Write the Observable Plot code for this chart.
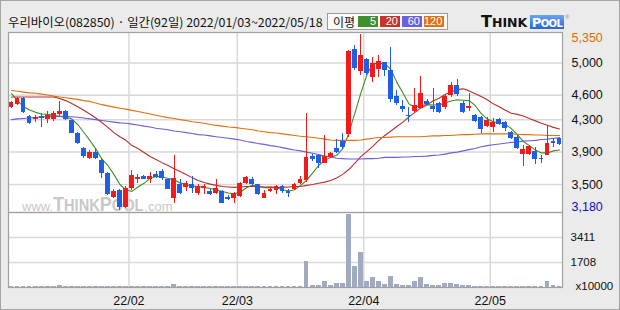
<!DOCTYPE html>
<html><head><meta charset="utf-8">
<script src="https://cdn.jsdelivr.net/npm/d3@7"></script>
<script src="https://cdn.jsdelivr.net/npm/@observablehq/plot@0.6"></script>
<style>
body{margin:0;background:#fff;}
#wrap{position:relative;width:620px;height:310px;background:#ebebeb;overflow:hidden;font-family:"Liberation Sans",Arial,sans-serif;}
#outline{position:absolute;left:0;top:0;width:620px;height:310px;box-sizing:border-box;border:1px solid #a4a4a4;pointer-events:none;}
.abs{position:absolute;}
#title{left:8px;top:14px;font-family:"Noto Sans CJK KR",sans-serif;font-size:12.4px;line-height:16px;color:#111;white-space:nowrap;}
#leg{left:327px;top:13px;width:121px;height:17px;box-sizing:border-box;border:1px solid #9a9a9a;background:#fbfbfb;}
#leg .lab{position:absolute;left:5px;top:0px;font-family:"Noto Sans CJK KR",sans-serif;font-size:12px;line-height:15px;color:#111;}
#leg .bx{position:absolute;top:2px;height:11px;width:20px;color:#fff;font-size:11px;line-height:11px;text-align:right;box-sizing:border-box;padding-right:2px;}
#logo{left:481px;top:13px;height:17px;width:90px;white-space:nowrap;}
#think{position:absolute;left:0;top:1px;width:50px;font-family:"DejaVu Sans",sans-serif;font-weight:900;color:#111;line-height:15px;letter-spacing:0px;}
#pool{position:absolute;left:49px;top:2px;width:34px;height:14px;background:linear-gradient(#6aa3f0,#2a66d2);font-family:"DejaVu Sans",sans-serif;font-weight:900;color:#fff;line-height:14px;text-align:center;letter-spacing:-0.6px;overflow:hidden;}
#reg{position:absolute;left:84px;top:1px;font-size:6px;color:#888;}
#pbg{left:8px;top:32px;width:554px;height:180px;background:#fff;}
#vbg{left:8px;top:212px;width:554px;height:75px;background:#fff;}
#wm{left:22px;top:192px;white-space:nowrap;color:#c8c8c8;font-family:"Liberation Sans",sans-serif;}
#price{left:0;top:32px;}
#vol{left:0;top:212px;}
</style></head><body>
<div id="wrap">
  <div id="pbg" class="abs"></div>
  <div id="vbg" class="abs"></div>
  <div id="wm" class="abs"><span style="font-size:13px;">www.</span><span style="font-size:21px;font-weight:bold;display:inline-block;transform:scaleX(0.86);transform-origin:left;margin-right:-14px;">T<span style="font-size:17px">HINK</span>P<span style="font-size:17px">OOL</span></span><span style="font-size:13px;">.com</span></div>
  <div id="price" class="abs"></div>
  <div id="vol" class="abs"></div>
  <div id="title" class="abs"></div>
  <div id="leg" class="abs"></div>
  <div id="logo" class="abs"><div id="think"><span style="font-size:16px">T</span><span style="font-size:12.5px">HINK</span></div><div id="pool"><span style="font-size:13px">P</span><span style="font-size:10px">OOL</span></div><div id="reg">®</div></div>
  <div id="outline"></div>
</div>
<script>
// ---- data ----
const titleText = "우리바이오(082850) · 일간(92일) 2022/01/03~2022/05/18";
const maLabel = "이평";
const maNames = ["5", "20", "60", "120"];
const maColors = ["#3f8c24", "#b8302a", "#6a5fdc", "#e0700c"];
const legendColors = ["#3f8f2a", "#c93226", "#6a5fdc", "#e2720e"];

const openP = [4455,4485,4565,4340,4300,4340,4300,4305,4365,4400,
 4290,4135,3945,3825,3900,3795,3640,3345,3425,3220,
 3455,3560,3605,3565,3625,3660,3560,3330,3505,3465,
 3500,3385,3445,3415,3385,3415,3345,3330,3355,3515,
 3560,3500,3330,3410,3425,3475,3410,3435,3515,3550,
 3845,3860,3765,3835,3950,4030,4115,5165,4895,5040,
 4825,4920,5000,4905,4585,4460,4350,4400,4440,4530,
 4460,4495,4445,4595,4720,4505,4435,4350,4325,4215,
 4205,4300,4270,4140,4085,3870,3865,3910,3815,3860,
 4035,4070];
const highP = [4530,4575,4570,4350,4350,4375,4400,4400,4525,4415,
 4295,4140,3960,3920,3930,3810,3650,3440,3440,3475,
 3675,3625,3610,3650,3665,3685,3570,3860,3560,3540,
 3605,3495,3495,3435,3560,3425,3365,3405,3530,3605,
 3590,3505,3425,3465,3490,3490,3435,3515,3600,4380,
 3870,3870,4105,3900,4055,4135,5155,5215,5350,5050,
 5070,5090,5010,5195,4660,4535,4450,4680,4835,4550,
 4680,4515,4615,4760,4790,4520,4620,4365,4340,4325,
 4310,4320,4280,4155,4105,3980,3980,3960,3860,4230,
 4065,4075];
const lowP = [4440,4475,4370,4240,4270,4200,4250,4280,4340,4290,
 4125,3995,3825,3805,3805,3580,3370,3330,3180,3200,
 3425,3510,3560,3515,3570,3550,3435,3265,3375,3415,
 3385,3365,3375,3365,3375,3265,3305,3265,3335,3500,
 3485,3365,3325,3405,3375,3395,3345,3425,3500,3520,
 3790,3700,3755,3815,3880,3930,4085,4905,4845,4845,
 4760,4825,4835,4515,4475,4390,4270,4390,4435,4475,
 4390,4375,4425,4570,4590,4375,4405,4270,4135,4200,
 4145,4230,4155,4050,3930,3725,3855,3750,3755,3860,
 3960,3980];
const closeP = [4515,4565,4390,4255,4325,4310,4350,4380,4400,4300,
 4135,4000,3845,3900,3815,3630,3375,3415,3220,3450,
 3610,3590,3565,3605,3590,3580,3440,3580,3385,3510,
 3445,3480,3480,3375,3450,3270,3315,3395,3510,3590,
 3500,3375,3395,3435,3475,3415,3395,3500,3560,3835,
 3805,3765,3845,3885,3895,3960,5140,4935,5090,4865,
 4995,5015,4905,4550,4505,4430,4335,4475,4620,4485,
 4430,4390,4585,4720,4605,4390,4460,4280,4180,4290,
 4270,4240,4195,4070,3950,3930,3970,3805,3805,4010,
 4000,3990];
// volume, unit x10000 shares
const volume = [80,90,100,85,60,70,75,70,160,80,
 75,80,90,75,70,80,85,70,95,90,
 80,70,60,65,60,70,75,230,90,70,
 70,60,65,60,70,75,60,65,80,70,
 70,75,60,60,65,60,60,80,95,1800,
 165,170,390,120,250,300,5000,1410,2365,435,
 710,390,230,775,230,165,165,435,710,230,
 165,120,250,250,230,165,165,100,90,80,
 85,80,90,75,90,85,80,90,70,390,
 110,100];
const ma5 = [4620,4535,4460,4420,4390,4370,4365,4350,4340,4330,
 4310,4240,4145,4045,3940,3815,3735,3625,3500,3435,
 3415,3470,3515,3575,3600,3595,3575,3560,3520,3500,
 3480,3475,3465,3450,3435,3415,3395,3385,3405,3460,
 3490,3475,3460,3465,3460,3435,3420,3435,3490,3550,
 3640,3735,3795,3835,3860,3940,4130,4375,4625,4850,
 4990,4995,4990,4920,4760,4630,4495,4450,4475,4485,
 4480,4480,4505,4530,4545,4540,4535,4475,4375,4310,
 4275,4260,4240,4190,4115,4030,3980,3925,3890,3890,
 3915,3925];
const ma20 = [4580,4580,4580,4580,4580,4580,4580,4580,4560,4535,
 4500,4460,4415,4370,4320,4265,4205,4140,4090,4045,
 3980,3945,3895,3845,3810,3770,3735,3695,3660,3625,
 3585,3550,3525,3505,3490,3475,3470,3465,3470,3475,
 3475,3475,3470,3470,3465,3465,3470,3475,3475,3490,
 3500,3515,3530,3550,3580,3625,3685,3760,3845,3905,
 3970,4045,4105,4160,4215,4270,4335,4390,4445,4485,
 4530,4565,4610,4645,4670,4680,4655,4620,4585,4545,
 4495,4460,4415,4380,4365,4345,4315,4285,4255,4230,
 4205,4185];
const ma60 = [4300,4310,4315,4320,4325,4335,4335,4340,4340,4340,
 4335,4330,4320,4310,4300,4290,4280,4270,4260,4255,
 4245,4235,4220,4210,4195,4185,4175,4160,4150,4140,
 4130,4115,4110,4100,4090,4080,4070,4060,4050,4030,
 4020,4005,3995,3980,3970,3955,3940,3925,3915,3900,
 3885,3870,3850,3840,3825,3820,3815,3815,3815,3820,
 3820,3825,3835,3835,3835,3840,3840,3845,3845,3850,
 3860,3865,3875,3890,3900,3915,3930,3945,3965,3980,
 3990,4000,4010,4020,4025,4035,4040,4045,4055,4060,
 4070,4075];
const ma120 = [4660,4650,4640,4630,4625,4615,4605,4590,4580,4570,
 4560,4550,4535,4525,4505,4485,4470,4455,4440,4430,
 4415,4400,4385,4370,4355,4340,4325,4315,4300,4290,
 4275,4265,4255,4240,4230,4220,4210,4205,4195,4185,
 4175,4160,4150,4140,4135,4125,4115,4105,4095,4090,
 4080,4070,4060,4050,4045,4045,4045,4045,4050,4060,
 4070,4080,4080,4085,4090,4090,4090,4090,4090,4095,
 4100,4100,4105,4105,4110,4115,4115,4120,4125,4125,
 4125,4125,4125,4125,4120,4115,4115,4110,4110,4105,
 4105,4105];
const priceTicks = [5000, 4600, 4300, 3900, 3500];
const volTicks = [3411, 1708];
const volUnit = "x10000";
const monthTicks = [20, 38, 59, 80];   // index of first trading day of month
const monthLabels = ["22/02", "22/03", "22/04", "22/05"];

// ---- header ----
document.getElementById("title").textContent = titleText;
const leg = document.getElementById("leg");
const lab = document.createElement("div"); lab.className = "lab"; lab.textContent = maLabel; leg.appendChild(lab);
maNames.forEach((n, k) => {
  const b = document.createElement("div");
  b.className = "bx"; b.textContent = n;
  b.style.left = (30 + k * 22) + "px";
  b.style.background = legendColors[k];
  leg.appendChild(b);
});

// ---- chart ----
const UP = "#f21b1b", DOWN = "#1f5fe3", GRID = "#d9d9d9", BORDER = "#a0a0a0";
const days = closeP.map((c, i) => ({i, o: openP[i], h: highP[i], l: lowP[i], c, v: volume[i], col: c >= openP[i] ? UP : DOWN}));
const mas = [ma5, ma20, ma60, ma120];
const xDom = [-0.5, closeP.length - 0.5];
const fmt = d3.format(",");
const axisFont = {fontFamily: "Liberation Sans, Arial, sans-serif", fontSize: "12.5px", color: "#111", background: "transparent", overflow: "visible"};

const price = Plot.plot({
  width: 620, height: 180,
  marginLeft: 8, marginRight: 58, marginTop: 0, marginBottom: 0,
  x: {domain: xDom, axis: null},
  y: {domain: [3155, 5375], axis: null, label: null},
  style: axisFont,
  marks: [
    Plot.ruleY(priceTicks, {stroke: GRID, strokeWidth: 1.5}),
    Plot.ruleX(monthTicks, {x: d => d - 0.5, stroke: GRID, strokeWidth: 1.5}),
    ...mas.map((arr, k) => Plot.line(arr, {x: (d, i) => i, y: d => d, stroke: maColors[k], strokeWidth: 1.1})),
    Plot.ruleX(days, {x: "i", y1: "l", y2: "h", stroke: "col", strokeWidth: 1, shapeRendering: "crispEdges"}),
    Plot.rect(days, {x1: d => d.i - 0.4, x2: d => d.i + 0.4, y1: "o", y2: "c", fill: "col", shapeRendering: "crispEdges"}),
    Plot.frame({stroke: BORDER, strokeWidth: 1.2}),
    Plot.axisY(priceTicks, {anchor: "right", tickSize: 0, tickPadding: 9, tickFormat: fmt, label: null}),
    Plot.text([d3.max(highP)], {y: d => d, text: fmt, frameAnchor: "right", textAnchor: "start", dx: 9, dy: 3, fill: "#dc6c00"}),
    Plot.text([d3.min(lowP)], {y: d => d, text: fmt, frameAnchor: "right", textAnchor: "start", dx: 9, dy: -3, fill: "#1010c8"})
  ]
});
document.getElementById("price").appendChild(price);

const vol = Plot.plot({
  width: 620, height: 98,
  marginLeft: 8, marginRight: 58, marginTop: 0, marginBottom: 23,
  x: {domain: xDom, label: null},
  y: {domain: [0, 5108], axis: null, label: null},
  style: axisFont,
  marks: [
    Plot.ruleY(volTicks, {stroke: GRID, strokeWidth: 1.5}),
    Plot.ruleX(monthTicks, {x: d => d - 0.5, stroke: GRID, strokeWidth: 1.5}),
    Plot.rectY(days, {x1: d => d.i - 0.4, x2: d => d.i + 0.4, y: "v", fill: "#a2aac2", shapeRendering: "crispEdges"}),
    Plot.frame({stroke: BORDER, strokeWidth: 1.2}),
    Plot.axisY(volTicks, {anchor: "right", tickSize: 0, tickPadding: 8, tickFormat: d => String(d), fontSize: 11.5, label: null}),
    Plot.axisX(monthTicks.map(d => d - 0.5), {anchor: "bottom", tickSize: 0, tickPadding: 9, label: null, tickFormat: d => monthLabels[monthTicks.indexOf(d + 0.5)]}),
    Plot.text([volUnit], {frameAnchor: "bottom-right", textAnchor: "start", lineAnchor: "middle", dx: 13, dy: -1, fontSize: 11.5})
  ]
});
document.getElementById("vol").appendChild(vol);
</script>
</body></html>
